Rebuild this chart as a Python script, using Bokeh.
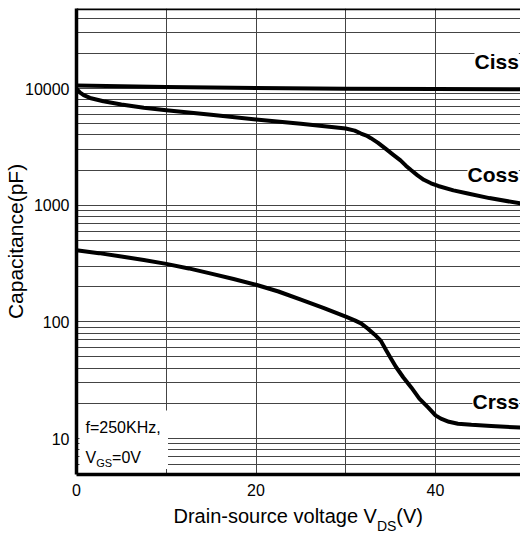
from bokeh.plotting import figure
from bokeh.models import FixedTicker, Label, BoxAnnotation, Span, LinearAxis
from bokeh.embed import file_html
from bokeh.resources import INLINE

# ---------------- data ----------------
vds_ciss = [0, 10, 20, 30, 40, 49.5]
ciss = [10600, 10300, 10100, 9950, 9900, 9850]

vds_coss = [0, 0.4, 0.8, 1.5, 3, 5, 7.5, 10, 15, 20, 25, 30, 31, 31.7, 32.3,
            32.8, 33.6, 34.5, 35.3, 36.1, 36.7, 37.3, 38.0, 38.7, 39.5, 40.3,
            42, 43.6, 46, 49.5]
coss = [9900, 9200, 8760, 8300, 7780, 7300, 6850, 6520, 5950, 5420, 4980,
        4540, 4350, 4110, 3950, 3750, 3420, 3020, 2700, 2420, 2180, 1990,
        1800, 1650, 1540, 1460, 1340, 1260, 1150, 1035]

vds_crss = [0, 2.5, 5, 7.5, 10, 12.5, 15, 17.5, 20, 22.5, 25, 27.5, 30, 31,
            31.7, 32.5, 33.2, 33.9, 34.5, 35.0, 35.6, 36.4, 37.3, 38.2, 39.2,
            40.0, 40.6, 41.5, 42.5, 44, 46.2, 49.5]
crss = [410, 388, 363, 339, 314, 287, 259, 233, 208, 182, 155, 132, 111, 103,
        97, 87, 78, 69, 57, 49, 41, 33.5, 27.4, 22, 18.4, 15.8, 14.8, 13.9,
        13.4, 13.1, 12.8, 12.4]

x_tick_labels = [0, 20, 40]
x_grid_ticks = [10, 20, 30, 40]
y_tick_labels = [10, 100, 1000, 10000]
x_title_main = "Drain-source voltage V"
x_title_sub = "DS"
x_title_tail = "(V)"
y_title = "Capacitance(pF)"

# ---------------- layout constants (canvas pixels) ----------------
FIG_W, FIG_H = 520, 538
LEFT_PX = 76            # canvas x of V=0
PX_PER_V = 8.975
Y10K_PX = 88            # canvas y of 10000 pF
PX_PER_DEC = 116.67
FRAME_TOP = 8
FRAME_BOT = 474
FONT = "Liberation Sans"


def xd(px):
    return (px - LEFT_PX) / PX_PER_V


def yd(py):
    return 10 ** (4 + (Y10K_PX - py) / PX_PER_DEC)


x_end = xd(FIG_W)
y_top = yd(FRAME_TOP)
y_bot = yd(FRAME_BOT)

p = figure(width=FIG_W, height=FIG_H, x_range=(0, x_end), y_range=(y_bot, y_top),
           y_axis_type="log", output_backend="svg", toolbar_location=None,
           min_border_left=LEFT_PX, min_border_right=0,
           min_border_top=FRAME_TOP, min_border_bottom=FIG_H - FRAME_BOT)
p.outline_line_color = None
p.background_fill_color = "white"
p.border_fill_color = "white"

# ---------------- axes ----------------
minors = [m * 10 ** k for k in range(0, 5) for m in range(2, 10)]
p.yaxis.ticker = FixedTicker(ticks=y_tick_labels, minor_ticks=minors)
p.yaxis.major_label_overrides = {v: str(v) for v in y_tick_labels}
p.xaxis.ticker = FixedTicker(ticks=x_tick_labels)
p.xgrid.ticker = FixedTicker(ticks=x_grid_ticks)
for ax in (p.xaxis, p.yaxis):
    ax.axis_line_width = 3.5
    ax.axis_line_color = "black"
    ax.major_tick_out = 0
    ax.major_tick_in = 0
    ax.minor_tick_out = 0
    ax.minor_tick_in = 0
    ax.major_label_text_font = FONT
    ax.major_label_text_font_size = "16px"
    ax.major_label_text_color = "black"
p.yaxis.major_label_standoff = 7
p.xaxis.major_label_standoff = 9

p.yaxis.axis_label = y_title
p.yaxis.axis_label_text_font = FONT
p.yaxis.axis_label_text_font_size = "21px"
p.yaxis.axis_label_text_font_style = "normal"
p.yaxis.axis_label_text_color = "black"
p.yaxis.axis_label_standoff = -5

# x title built from two extra unlined axes (main text, then subscript)
title_main_w = 203.4     # px width of main text at 20px
sub_w = 19.4             # px width of subscript at 14px
main_center = xd(173 + title_main_w / 2)
tail_center = xd(173 + title_main_w + sub_w + 13.3)
sub_center = xd(173 + title_main_w + sub_w / 2)

ax_title = LinearAxis(ticker=FixedTicker(ticks=[main_center, tail_center]),
                      major_label_overrides={main_center: x_title_main,
                                             tail_center: x_title_tail})
ax_sub = LinearAxis(ticker=FixedTicker(ticks=[sub_center]),
                    major_label_overrides={sub_center: x_title_sub})
for ax, size, stand in ((ax_title, "20px", 6), (ax_sub, "14px", -12)):
    ax.axis_line_color = None
    ax.major_tick_line_color = None
    ax.minor_tick_line_color = None
    ax.major_tick_out = 0
    ax.major_tick_in = 0
    ax.minor_tick_out = 0
    ax.minor_tick_in = 0
    ax.major_label_text_font = FONT
    ax.major_label_text_font_size = size
    ax.major_label_text_color = "black"
    ax.major_label_standoff = stand
    p.add_layout(ax, "below")

# ---------------- grid ----------------
p.ygrid.grid_line_color = "#444444"
p.ygrid.minor_grid_line_color = "#444444"
p.ygrid.grid_line_width = 1
p.xgrid.grid_line_color = "#444444"
p.xgrid.grid_line_width = 1

p.add_layout(Span(location=y_top, dimension="width", line_color="black", line_width=3.5))

# ---------------- curves ----------------
for xs, ys in ((vds_ciss, ciss), (vds_coss, coss), (vds_crss, crss)):
    p.line(xs, ys, line_color="black", line_width=4, line_join="round")

# white box behind the test-condition text
p.add_layout(BoxAnnotation(left=xd(79), right=xd(167.5), bottom=yd(468.5), top=yd(410),
                           fill_color="white", fill_alpha=1.0, line_color=None))


def lab(text, px, py, size, bold=False, bg=False):
    l = Label(x=xd(px), y=yd(py), text=text, text_font=FONT,
              text_font_size=size, text_color="black",
              text_font_style="bold" if bold else "normal",
              text_baseline="alphabetic", text_align="left")
    if bg:
        l.background_fill_color = "white"
        l.background_fill_alpha = 1.0
    p.add_layout(l)


# curve names
lab("Ciss", 474, 61, "21px", bold=True, bg=True)
lab("Coss", 467, 174, "21px", bold=True, bg=True)
lab("Crss", 472, 400.5, "21px", bold=True, bg=True)

# test condition
lab("f=250KHz,", 85, 427, "16px")
lab("V", 85, 457.3, "16px")
lab("GS", 95.7, 462.5, "11px")
lab("=0V", 111.6, 457.3, "16px")

open("out.html", "w").write(file_html(p, INLINE))
